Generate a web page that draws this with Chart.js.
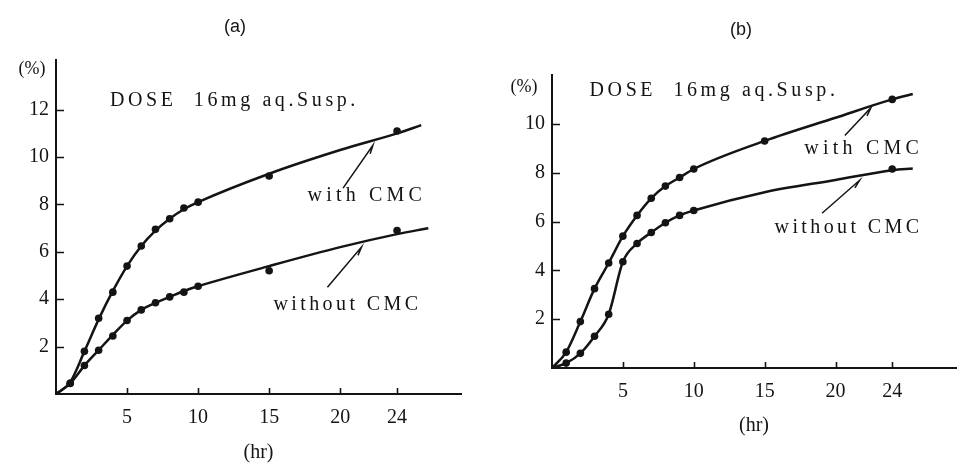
<!DOCTYPE html>
<html>
<head>
<meta charset="utf-8">
<script src="https://cdn.jsdelivr.net/npm/chart.js@4.4.1/dist/chart.umd.min.js"></script>
<style>
  html, body { margin: 0; padding: 0; background: #fff; }
  #wrap { position: relative; width: 960px; height: 463px; overflow: hidden; }
  .panel { position: absolute; top: 0; width: 480px; height: 463px; }
  #panelA { left: 0; }
  #panelB { left: 480px; }
</style>
</head>
<body>
<div id="wrap">
  <div class="panel" id="panelA"><canvas id="chartA" width="480" height="463"></canvas></div>
  <div class="panel" id="panelB"><canvas id="chartB" width="480" height="463"></canvas></div>
</div>
<script>
const hourTicks = [5, 10, 15, 20, 24];
const percentTicksA = [2, 4, 6, 8, 10, 12];
const percentTicksB = [2, 4, 6, 8, 10];

// (a) measured points
const hoursA = [1, 2, 3, 4, 5, 6, 7, 8, 9, 10, 15, 24];
const withCmcA = [0.45, 1.8, 3.2, 4.3, 5.4, 6.25, 6.95, 7.4, 7.85, 8.1, 9.2, 11.1];
const withoutCmcA = [0.45, 1.2, 1.85, 2.45, 3.1, 3.55, 3.85, 4.1, 4.3, 4.55, 5.2, 6.9];

// (a) smoothed curves
const curveHoursWithA = [0, 1, 2, 3, 4, 5, 6, 7, 8, 9, 10, 15, 20, 24, 25.7];
const curveWithA = [0, 0.5, 1.8, 3.15, 4.35, 5.4, 6.25, 6.9, 7.4, 7.8, 8.1, 9.3, 10.3, 11.0, 11.35];
const curveHoursWithoutA = [0, 1, 2, 3, 4, 5, 6, 7, 8, 9, 10, 15, 20, 24, 26.2];
const curveWithoutA = [0, 0.45, 1.2, 1.85, 2.5, 3.1, 3.55, 3.85, 4.1, 4.35, 4.55, 5.4, 6.2, 6.75, 7.0];

// (b) measured points
const hoursWithB = [1, 2, 3, 4, 5, 6, 7, 8, 9, 10, 15, 24];
const withCmcB = [0.65, 1.9, 3.25, 4.3, 5.4, 6.25, 6.95, 7.45, 7.8, 8.15, 9.3, 11.0];
const hoursWithoutB = [1, 2, 3, 4, 5, 6, 7, 8, 9, 10, 24];
const withoutCmcB = [0.2, 0.6, 1.3, 2.2, 4.35, 5.1, 5.55, 5.95, 6.25, 6.45, 8.15];

// (b) smoothed curves
const curveHoursWithB = [0, 1, 2, 3, 4, 5, 6, 7, 8, 9, 10, 15, 20, 24, 25.45];
const curveWithB = [0, 0.65, 1.9, 3.25, 4.3, 5.4, 6.25, 6.95, 7.45, 7.8, 8.15, 9.3, 10.25, 11.0, 11.22];
const curveHoursWithoutB = [0, 1, 2, 3, 4, 5, 6, 7, 8, 9, 10, 15, 20, 24, 25.45];
const curveWithoutB = [0, 0.2, 0.6, 1.3, 2.2, 4.35, 5.1, 5.55, 5.95, 6.25, 6.45, 7.2, 7.7, 8.1, 8.17];

const INK = '#141414';
const SERIF = "'Liberation Serif', 'DejaVu Serif', serif";

const pairs = (xs, ys) => xs.map((x, i) => ({ x: x, y: ys[i] }));

// inward ticks, panel letter, unit mark, curve labels and pointer arrows
const paperMarks = {
    id: 'paperMarks',
    afterDraw(chart, args, opts) {
        const ctx = chart.ctx;
        const area = chart.chartArea;
        const xs = chart.scales.x;
        const ys = chart.scales.y;
        ctx.save();
        ctx.strokeStyle = INK;
        ctx.fillStyle = INK;
        ctx.lineWidth = 1.6;
        ctx.beginPath();
        xs.ticks.forEach(t => {
            const px = Math.round(xs.getPixelForValue(t.value)) + 0.5;
            ctx.moveTo(px, area.bottom);
            ctx.lineTo(px, area.bottom - 6);
        });
        ys.ticks.forEach(t => {
            const py = Math.round(ys.getPixelForValue(t.value)) + 0.5;
            ctx.moveTo(area.left, py);
            ctx.lineTo(area.left + 8, py);
        });
        ctx.stroke();

        ctx.textAlign = 'center';
        ctx.textBaseline = 'middle';
        ctx.font = "18px 'Liberation Sans Narrow', 'Liberation Sans', sans-serif";
        ctx.fillText(opts.letter, opts.letterAt[0], opts.letterAt[1]);
        ctx.font = '18px ' + SERIF;
        ctx.fillText('(%)', opts.unitAt[0], opts.unitAt[1]);

        ctx.textAlign = 'left';
        opts.notes.forEach(n => {
            ctx.letterSpacing = n.spacing + 'px';
            ctx.font = n.size + 'px ' + SERIF;
            ctx.fillText(n.text, xs.getPixelForValue(n.at[0]), ys.getPixelForValue(n.at[1]));
        });
        ctx.letterSpacing = '0px';

        ctx.lineWidth = 1.5;
        opts.arrows.forEach(a => {
            const x0 = xs.getPixelForValue(a.from[0]), y0 = ys.getPixelForValue(a.from[1]);
            const x1 = xs.getPixelForValue(a.to[0]), y1 = ys.getPixelForValue(a.to[1]);
            const ang = Math.atan2(y1 - y0, x1 - x0);
            ctx.beginPath();
            ctx.moveTo(x0, y0);
            ctx.lineTo(x1, y1);
            ctx.lineTo(x1 - 9 * Math.cos(ang - 0.3), y1 - 9 * Math.sin(ang - 0.3));
            ctx.stroke();
        });
        ctx.restore();
    }
};

function makePanel(canvasId, cfg) {
    const curveStyle = {
        showLine: true,
        borderColor: INK,
        borderWidth: 2.5,
        pointRadius: 0,
        cubicInterpolationMode: 'monotone',
        fill: false
    };
    const dotStyle = {
        showLine: false,
        pointRadius: 3.8,
        pointBackgroundColor: INK,
        pointBorderWidth: 0
    };
    return new Chart(document.getElementById(canvasId), {
        type: 'scatter',
        data: {
            datasets: [
                Object.assign({ label: 'with CMC curve', data: cfg.curveWith }, curveStyle),
                Object.assign({ label: 'without CMC curve', data: cfg.curveWithout }, curveStyle),
                Object.assign({ label: 'with CMC', data: cfg.with }, dotStyle),
                Object.assign({ label: 'without CMC', data: cfg.without }, dotStyle)
            ]
        },
        options: {
            responsive: false,
            animation: false,
            layout: { padding: { top: cfg.top, right: cfg.right, bottom: cfg.bottomPad, left: 0 } },
            plugins: {
                legend: { display: false },
                tooltip: { enabled: false },
                paperMarks: cfg.marks
            },
            scales: {
                x: {
                    type: 'linear',
                    min: 0,
                    max: 28.5,
                    afterBuildTicks: s => { s.ticks = hourTicks.map(v => ({ value: v })); },
                    afterFit: s => { s.height = cfg.xHeight; },
                    grid: { display: false, drawTicks: false },
                    border: { display: true, color: INK, width: 2 },
                    ticks: { color: INK, padding: 12, font: { family: SERIF, size: 20 } },
                    title: {
                        display: true,
                        text: '(hr)',
                        color: INK,
                        padding: 0,
                        font: { family: SERIF, size: 20, lineHeight: 1 }
                    }
                },
                y: {
                    type: 'linear',
                    min: 0,
                    max: cfg.yMax,
                    afterBuildTicks: s => { s.ticks = cfg.yTicks.map(v => ({ value: v })); },
                    afterFit: s => { s.width = cfg.left; },
                    grid: { display: false, drawTicks: false },
                    border: { display: true, color: INK, width: 2 },
                    ticks: { color: INK, padding: 7, font: { family: SERIF, size: 20 } }
                }
            }
        },
        plugins: [paperMarks]
    });
}

makePanel('chartA', {
    with: pairs(hoursA, withCmcA),
    without: pairs(hoursA, withoutCmcA),
    curveWith: pairs(curveHoursWithA, curveWithA),
    curveWithout: pairs(curveHoursWithoutA, curveWithoutA),
    yMax: 14.1,
    yTicks: percentTicksA,
    left: 56, right: 19, top: 60, bottomPad: 0, xHeight: 69,
    marks: {
        letter: '(a)', letterAt: [235, 27],
        unitAt: [32, 69],
        notes: [
            { text: 'DOSE  16mg aq.Susp.', at: [3.8, 12.4], size: 20, spacing: 3.6 },
            { text: 'with CMC', at: [17.7, 8.35], size: 20, spacing: 4.2 },
            { text: 'without CMC', at: [15.3, 3.75], size: 20, spacing: 3.4 }
        ],
        arrows: [
            { from: [20.2, 8.69], to: [22.3, 10.5] },
            { from: [19.1, 4.51], to: [21.5, 6.2] }
        ]
    }
});

makePanel('chartB', {
    with: pairs(hoursWithB, withCmcB),
    without: pairs(hoursWithoutB, withoutCmcB),
    curveWith: pairs(curveHoursWithB, curveWithB),
    curveWithout: pairs(curveHoursWithoutB, curveWithoutB),
    yMax: 12,
    yTicks: percentTicksB,
    left: 72, right: 0, top: 75, bottomPad: 27, xHeight: 68,
    marks: {
        letter: '(b)', letterAt: [261, 30],
        unitAt: [44, 87],
        notes: [
            { text: 'DOSE  16mg aq.Susp.', at: [2.65, 11.36], size: 20, spacing: 3.6 },
            { text: 'with CMC', at: [17.8, 8.99], size: 20, spacing: 4.2 },
            { text: 'without CMC', at: [15.7, 5.73], size: 20, spacing: 3.4 }
        ],
        arrows: [
            { from: [20.66, 9.52], to: [22.5, 10.66] },
            { from: [19.05, 6.34], to: [21.7, 7.69] }
        ]
    }
});
</script>
</body>
</html>
